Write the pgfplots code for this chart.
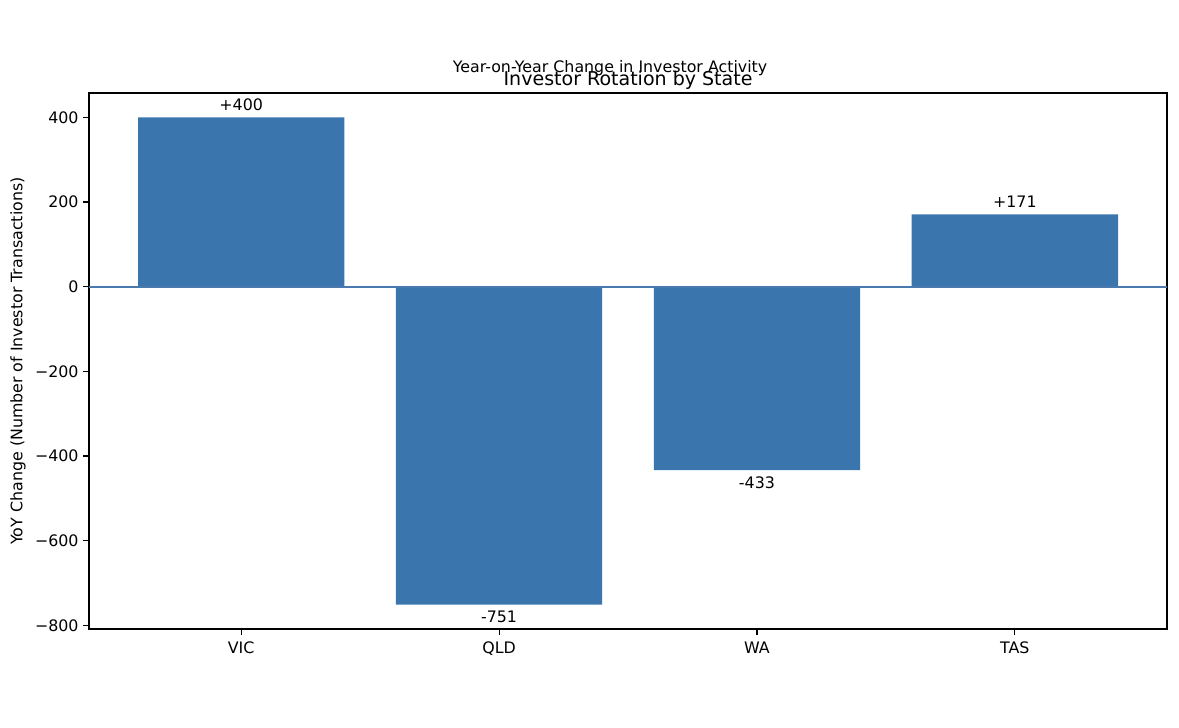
\documentclass[border=0pt]{standalone}
\usepackage{pgfplots}
\pgfplotsset{compat=1.18}
\usepackage{fontspec}
\setmainfont{DejaVu Sans}
\definecolor{barblue}{HTML}{3A75AE}
\definecolor{lineblue}{HTML}{4A7AAD}
\begin{document}
\begin{tikzpicture}[x=1pt,y=1pt]
\path[use as bounding box] (0,0) rectangle (848.88,524.16);
\node[anchor=base,font=\fontsize{11.4}{13}\selectfont] at (439.2,472.0) {Year-on-Year Change in Investor Activity};
\node[anchor=base,font=\fontsize{13.7}{16}\selectfont] at (452.2,462.9) {Investor Rotation by State};
\begin{axis}[
  at={(64.08pt,71.28pt)}, anchor=south west,
  scale only axis, width=776.16pt, height=385.92pt,
  xmin=-0.59, xmax=3.59, ymin=-808.55, ymax=457.55,
  xtick={0,1,2,3}, xticklabels={VIC,QLD,WA,TAS},
  ytick={-800,-600,-400,-200,0,200,400},
  yticklabels={−800,−600,−400,−200,0,200,400},
  tick align=outside, major tick length=4pt,
  xtick pos=bottom, ytick pos=left,
  tick style={black, line width=0.8pt},
  axis line style={line width=0.8pt},
  ticklabel style={font=\fontsize{11.4}{13}\selectfont},
  xticklabel style={yshift=-1.5pt},
  ylabel={YoY Change (Number of Investor Transactions)},
  ylabel style={at={(axis description cs:-0.0658,0.5)}, anchor=center, font=\fontsize{11.4}{13}\selectfont},
  every node near coord/.append style={font=\fontsize{11.4}{13}\selectfont, black},
  clip=false,
]
\addplot[ybar, bar width=0.8, bar shift=0pt, fill=barblue, draw=none,
  nodes near coords, point meta=explicit symbolic,
  every node near coord/.append style={anchor=south, yshift=1.2pt}]
  coordinates {(0,400) [+400] (3,171) [+171]};
\addplot[ybar, bar width=0.8, bar shift=0pt, fill=barblue, draw=none,
  nodes near coords, point meta=explicit symbolic,
  every node near coord/.append style={anchor=north, yshift=-1pt}]
  coordinates {(1,-751) [-751] (2,-433) [-433]};
\addplot[lineblue, line width=1.6pt, no marks] coordinates {(-0.59,0) (3.59,0)};
\end{axis}
\end{tikzpicture}
\end{document}
